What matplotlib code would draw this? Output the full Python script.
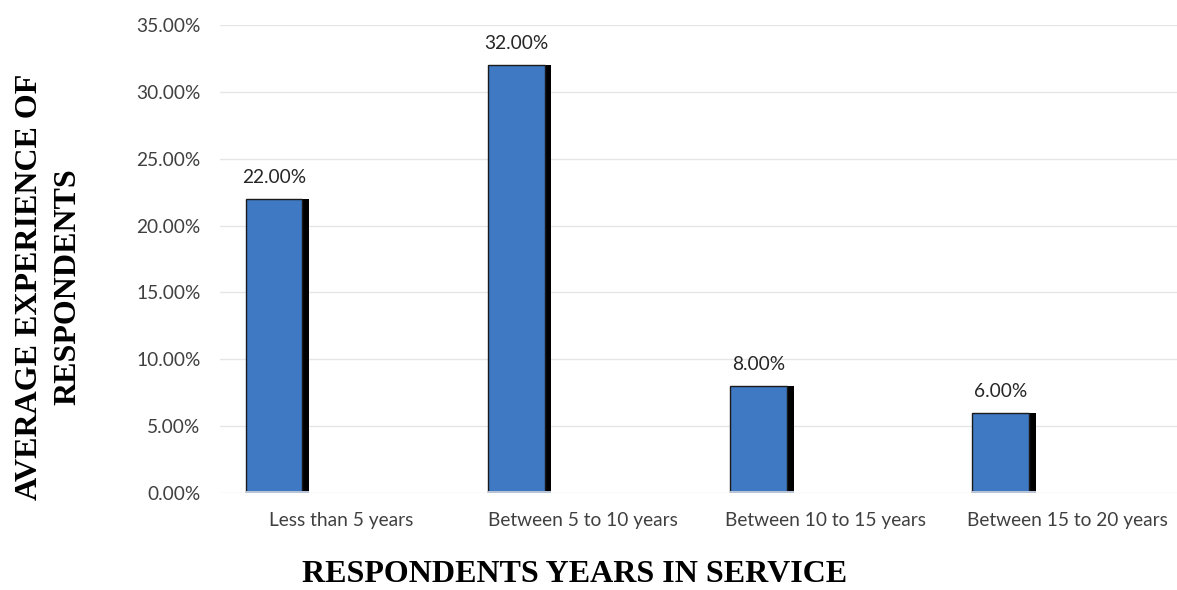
import matplotlib
matplotlib.use("Agg")
import matplotlib.pyplot as plt
from matplotlib.ticker import FuncFormatter
import numpy as np

categories = ["Less than 5 years", "Between 5 to 10 years", "Between 10 to 15 years", "Between 15 to 20 years"]
values = [22.0, 32.0, 8.0, 6.0]
yticks = [0, 5, 10, 15, 20, 25, 30, 35]

W, H = 1177, 590
fig = plt.figure(figsize=(W / 100, H / 100), dpi=100)
ax = fig.add_axes([220 / W, 1 - 493 / H, (1189 - 220) / W, (493 - 25) / H])

x = np.arange(len(categories))
offset = -0.277
width = 0.235
shadow_dx = 0.027

# shadow bars
ax.bar(x + offset + shadow_dx, values, width=width, color="black", zorder=2)
# main bars
ax.bar(x + offset, values, width=width, color="#3f78c3", edgecolor="#1a1a1a", linewidth=1.0, zorder=3)
# light base strip
ax.bar(x + offset + shadow_dx / 2, [0.12] * len(values), width=width + shadow_dx, color="#b8c4d6", zorder=4)

for xi, v in zip(x, values):
    ax.text(xi + offset, v + 0.95, f"{v:.2f}%", ha="center", va="bottom",
            fontsize=13.8, color="#262626", family="Lato")

ax.set_xlim(-0.5, 3.5)
ax.set_ylim(0, 35)
ax.set_yticks(yticks)
ax.yaxis.set_major_formatter(FuncFormatter(lambda v, p: f"{v:.2f}%"))
ax.set_xticks(x)
ax.set_xticklabels(categories)
ax.grid(axis="y", color="#e6e6e6", linewidth=1.0, zorder=0)
ax.set_axisbelow(True)
for s in ax.spines.values():
    s.set_visible(False)
ax.tick_params(axis="both", length=0, labelsize=13.8, labelcolor="#404040")
ax.tick_params(axis="y", pad=14)
ax.tick_params(axis="x", pad=14)
for lbl in ax.get_xticklabels() + ax.get_yticklabels():
    lbl.set_family("Lato")

fig.text(575 / W, 1 - 575 / H, "RESPONDENTS YEARS IN SERVICE", ha="center", va="center",
         fontsize=23, fontweight="bold", family="Liberation Serif")
fig.text(30 / W, 1 - 287 / H, "AVERAGE EXPERIENCE OF", ha="center", va="center", rotation=90,
         fontsize=23, fontweight="bold", family="Liberation Serif")
fig.text(68 / W, 1 - 287 / H, "RESPONDENTS", ha="center", va="center", rotation=90,
         fontsize=23, fontweight="bold", family="Liberation Serif")

fig.savefig("out.png", dpi=100)
